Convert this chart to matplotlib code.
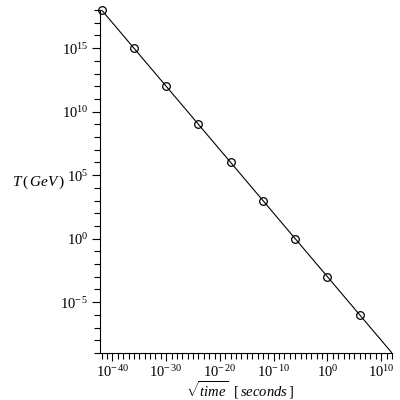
import matplotlib

matplotlib.use("Agg")
import matplotlib.pyplot as plt
from matplotlib.ticker import FixedLocator, FuncFormatter
import numpy as np

# Markers: sqrt(time) in seconds vs temperature in GeV
sqrt_time = [1e-42, 1e-36, 1e-30, 1e-24, 1e-18, 1e-12, 1e-6, 1e0, 1e6]
temp_gev = [1e18, 1e15, 1e12, 1e9, 1e6, 1e3, 1e0, 1e-3, 1e-6]

# Fitted line end points
line_x = [1e-42, 1e12]
line_t = [1e18, 1e-9]

x_major = [1e-40, 1e-30, 1e-20, 1e-10, 1e0, 1e10]
y_major = [1e-5, 1e0, 1e5, 1e10, 1e15]

plt.rcParams["mathtext.fontset"] = "custom"
plt.rcParams["mathtext.rm"] = "Liberation Serif"
plt.rcParams["mathtext.it"] = "Liberation Serif:italic"
plt.rcParams["font.family"] = "Liberation Serif"

fig = plt.figure(figsize=(4, 4), dpi=100)
ax = fig.add_axes([0.25, 0.1175, 0.73, 0.8575])

ax.plot(line_x, line_t, color="black", linewidth=0.8)
ax.plot(sqrt_time, temp_gev, linestyle="none", marker="o", markersize=5.5,
        markerfacecolor="none", markeredgecolor="black", markeredgewidth=0.9,
        clip_on=False)

ax.set_xscale("log")
ax.set_yscale("log")
ax.set_xlim(10 ** -42.3, 1e12)
ax.set_ylim(1e-9, 1e18)

for s in ("top", "right"):
    ax.spines[s].set_visible(False)


def fmt(v, pos):
    e = int(round(np.log10(v)))
    if e < 0:
        return r"$10^{-\,%d}$" % (-e)
    return r"$10^{%d}$" % e


ax.xaxis.set_major_locator(FixedLocator(x_major))
ax.yaxis.set_major_locator(FixedLocator(y_major))
ax.xaxis.set_minor_locator(FixedLocator([10.0 ** k for k in range(-42, 13)]))
ax.yaxis.set_minor_locator(FixedLocator([10.0 ** k for k in range(-9, 19)]))
ax.xaxis.set_major_formatter(FuncFormatter(fmt))
ax.yaxis.set_major_formatter(FuncFormatter(fmt))
ax.xaxis.set_minor_formatter(FuncFormatter(lambda v, p: ""))
ax.yaxis.set_minor_formatter(FuncFormatter(lambda v, p: ""))
ax.tick_params(which="major", length=6, width=0.8, labelsize=10.5, pad=2)
ax.tick_params(which="minor", length=4, width=0.8)

fig.text(0.6, 0.026, r"$\sqrt{time}\ \ [\,seconds\,]$", fontsize=10.5,
         ha="center", va="center")
fig.text(0.03, 0.545, r"$T\,(\,GeV\,)$", fontsize=11, ha="left", va="center")

fig.savefig("out.png", dpi=100)
